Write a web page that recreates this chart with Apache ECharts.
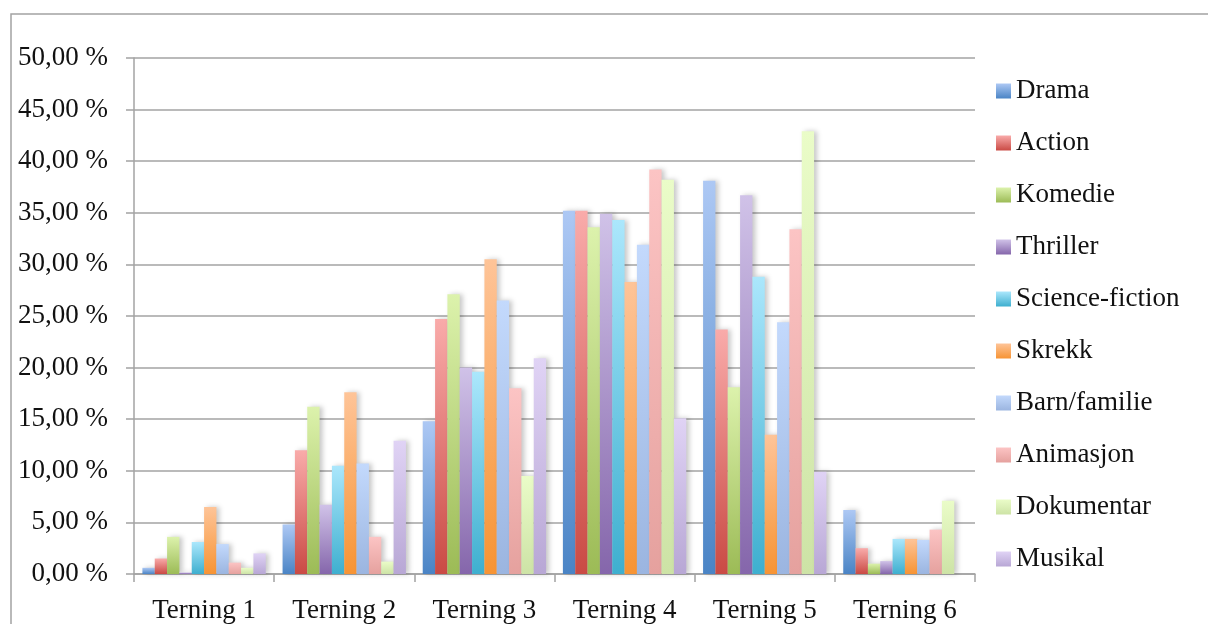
<!DOCTYPE html>
<html>
<head>
<meta charset="utf-8">
<script src="https://cdn.jsdelivr.net/npm/echarts@6/dist/echarts.min.js"></script>
<style>
  html, body { margin: 0; padding: 0; background: #fff; }
  #chart { width: 1208px; height: 624px; }
</style>
</head>
<body>
<div id="chart"></div>
<script>
// Dice ratings per genre (share of answers, %)
const categories = ['Terning 1', 'Terning 2', 'Terning 3', 'Terning 4', 'Terning 5', 'Terning 6'];
const genres = ['Drama', 'Action', 'Komedie', 'Thriller', 'Science-fiction', 'Skrekk', 'Barn/familie', 'Animasjon', 'Dokumentar', 'Musikal'];

const drama      = [0.6, 4.8, 14.8, 35.2, 38.1, 6.2];
const action     = [1.5, 12.0, 24.7, 35.2, 23.7, 2.5];
const komedie    = [3.6, 16.2, 27.1, 33.6, 18.1, 1.0];
const thriller   = [0.15, 6.7, 20.0, 34.9, 36.7, 1.25];
const scifi      = [3.1, 10.5, 19.6, 34.3, 28.8, 3.4];
const skrekk     = [6.5, 17.6, 30.5, 28.3, 13.5, 3.4];
const barn       = [2.9, 10.7, 26.5, 31.9, 24.4, 3.3];
const animasjon  = [1.1, 3.6, 18.0, 39.2, 33.4, 4.3];
const dokumentar = [0.6, 1.2, 9.5, 38.2, 42.9, 7.1];
const musikal    = [2.0, 12.9, 20.9, 15.1, 9.9, 0];

const yTicks = { min: 0, max: 50, interval: 5 };

const seriesValues = [drama, action, komedie, thriller, scifi, skrekk, barn, animasjon, dokumentar, musikal];

// light (top) -> dark (bottom) gradient for each genre
const palette = [
  ['#adc8f4', '#4a84c5'],
  ['#f9abaa', '#ca4a44'],
  ['#dcf2ac', '#9cbb56'],
  ['#d0c2e8', '#8566ab'],
  ['#abe7fc', '#3eafcf'],
  ['#fec498', '#f79434'],
  ['#c3d9fc', '#9bb5e0'],
  ['#fcc4c4', '#e5a19e'],
  ['#eafcc8', '#cde3a6'],
  ['#e0d3f5', '#b8a7d5']
];

const font = "'Liberation Serif', 'Times New Roman', serif";
const gray = '#a3a3a3';
const fontSize = 27;

const series = genres.map((name, i) => ({
  name: name,
  type: 'bar',
  data: seriesValues[i],
  barGap: '0%',
  barCategoryGap: '12%',
  itemStyle: {
    color: {
      type: 'linear', x: 0, y: 0, x2: 0, y2: 1,
      colorStops: [
        { offset: 0, color: palette[i][0] },
        { offset: 1, color: palette[i][1] }
      ]
    },
    shadowColor: 'rgba(0,0,0,0.22)',
    shadowBlur: 5,
    shadowOffsetX: 3,
    shadowOffsetY: 0
  }
}));

const chart = echarts.init(document.getElementById('chart'), null, { renderer: 'canvas' });
chart.setOption({
  animation: false,
  backgroundColor: '#ffffff',
  textStyle: { fontFamily: font },
  graphic: [{
    type: 'rect',
    shape: { x: 11, y: 14, width: 1300, height: 700 },
    style: { fill: 'none', stroke: gray, lineWidth: 1.5 },
    silent: true,
    z: -10
  }],
  grid: { left: 134, right: 233, top: 58, bottom: 49, containLabel: false },
  legend: {
    orient: 'vertical',
    left: 991,
    top: 71,
    itemWidth: 15,
    itemHeight: 15,
    itemGap: 22,
    icon: 'rect',
    textStyle: { fontFamily: font, fontSize: fontSize, color: '#111', lineHeight: 30 },
    data: genres
  },
  xAxis: {
    type: 'category',
    data: categories,
    axisLine: { lineStyle: { color: gray, width: 1.5 } },
    axisTick: { show: true, length: 8, interval: 0, alignWithLabel: false, lineStyle: { color: gray, width: 1.5 } },
    axisLabel: { fontFamily: font, fontSize: fontSize, color: '#111', margin: 23, interval: 0 },
    splitLine: { show: false }
  },
  yAxis: {
    type: 'value',
    min: yTicks.min,
    max: yTicks.max,
    interval: yTicks.interval,
    axisLine: { show: true, lineStyle: { color: gray, width: 1.5 } },
    axisTick: { show: true, length: 8, lineStyle: { color: gray, width: 1.5 } },
    axisLabel: {
      fontFamily: font, fontSize: fontSize, color: '#111', margin: 26,
      formatter: v => v.toFixed(2).replace('.', ',') + ' %'
    },
    splitLine: { show: true, lineStyle: { color: gray, width: 1.5 } }
  },
  series: series
});
</script>
</body>
</html>
